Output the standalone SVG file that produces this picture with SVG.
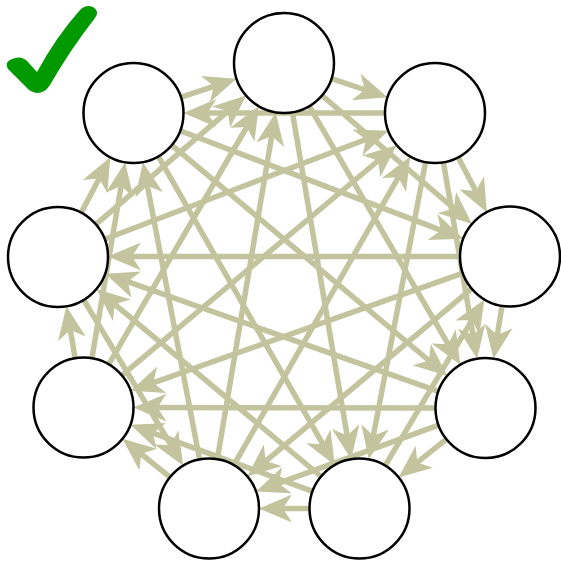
<svg xmlns="http://www.w3.org/2000/svg" width="561" height="561" viewBox="0 0 561 561">
<defs>
<marker id="arr" markerUnits="userSpaceOnUse" markerWidth="33" markerHeight="28" viewBox="0 0 33 28" refX="13" refY="14" orient="auto">
<path d="M0,0 L33,14 L0,28 L9,14 Z" fill="#c3c49e"/>
</marker>
<style>
.e{stroke:#c3c49e;stroke-width:5.5;fill:none;marker-end:url(#arr)}
.n{fill:#ffffff;stroke:#000000;stroke-width:2.5}
</style>
</defs>
<rect width="561" height="561" fill="#ffffff"/>
<path d="M8,69 Q4,62 12,59 Q21,55 27,61 L37,72 Q56,37 80,10 Q86,4 93,7 Q100,11 95,18 Q70,50 50,85 Q45,93 37,93 Q30,92 26,87 Z" fill="#009900"/>
<g id="edges">
<line class="e" x1="331.5" y1="78.7" x2="368.5" y2="91.0"/>
<line class="e" x1="322.0" y1="95.5" x2="456.8" y2="211.0"/>
<line class="e" x1="309.2" y1="106.2" x2="450.2" y2="347.6"/>
<line class="e" x1="292.4" y1="112.3" x2="347.8" y2="439.5"/>
<line class="e" x1="458.2" y1="157.3" x2="477.6" y2="194.5"/>
<line class="e" x1="443.4" y1="162.3" x2="473.7" y2="339.0"/>
<line class="e" x1="425.6" y1="162.1" x2="372.6" y2="439.7"/>
<line class="e" x1="385.0" y1="113.0" x2="203.5" y2="113.0"/>
<line class="e" x1="502.0" y1="305.9" x2="496.7" y2="338.9"/>
<line class="e" x1="471.7" y1="288.6" x2="262.7" y2="463.6"/>
<line class="e" x1="462.9" y1="273.2" x2="149.5" y2="384.1"/>
<line class="e" x1="460.0" y1="256.5" x2="128.0" y2="256.4"/>
<line class="e" x1="446.4" y1="439.2" x2="414.2" y2="464.9"/>
<line class="e" x1="438.5" y1="425.1" x2="274.8" y2="484.6"/>
<line class="e" x1="435.5" y1="407.9" x2="153.5" y2="407.6"/>
<line class="e" x1="438.4" y1="391.4" x2="124.0" y2="280.3"/>
<line class="e" x1="385.1" y1="465.6" x2="474.1" y2="316.6"/>
<line class="e" x1="309.5" y1="508.5" x2="279.0" y2="508.5"/>
<line class="e" x1="312.5" y1="491.3" x2="149.2" y2="431.6"/>
<line class="e" x1="321.1" y1="476.5" x2="111.8" y2="301.8"/>
<line class="e" x1="217.3" y1="459.2" x2="272.4" y2="132.0"/>
<line class="e" x1="233.8" y1="465.1" x2="400.3" y2="173.8"/>
<line class="e" x1="170.0" y1="477.2" x2="138.0" y2="451.4"/>
<line class="e" x1="199.6" y1="459.4" x2="146.6" y2="181.8"/>
<line class="e" x1="108.7" y1="364.3" x2="248.8" y2="123.5"/>
<line class="e" x1="121.8" y1="375.4" x2="381.3" y2="158.0"/>
<line class="e" x1="75.1" y1="358.2" x2="69.7" y2="326.0"/>
<line class="e" x1="91.9" y1="358.2" x2="121.8" y2="182.0"/>
<line class="e" x1="95.9" y1="224.4" x2="230.9" y2="108.6"/>
<line class="e" x1="104.7" y1="239.2" x2="369.6" y2="138.0"/>
<line class="e" x1="83.7" y1="299.9" x2="173.0" y2="448.5"/>
<line class="e" x1="81.2" y1="212.7" x2="101.0" y2="175.0"/>
<line class="e" x1="181.0" y1="97.2" x2="217.6" y2="85.1"/>
<line class="e" x1="180.2" y1="130.8" x2="444.6" y2="231.6"/>
<line class="e" x1="171.8" y1="145.1" x2="431.9" y2="363.0"/>
<line class="e" x1="158.3" y1="156.4" x2="324.8" y2="447.7"/>
</g>
<g id="n0"><circle class="n" cx="284" cy="63" r="50"/></g>
<g id="n1"><circle class="n" cx="435" cy="113" r="50"/></g>
<g id="n2"><circle class="n" cx="510" cy="256.5" r="50"/></g>
<g id="n3"><circle class="n" cx="485.5" cy="408" r="50"/></g>
<g id="n4"><circle class="n" cx="359.5" cy="508.5" r="50"/></g>
<g id="n5"><circle class="n" cx="209" cy="508.5" r="50"/></g>
<g id="n6"><circle class="n" cx="83.5" cy="407.5" r="50"/></g>
<g id="n7"><circle class="n" cx="58" cy="257" r="50"/></g>
<g id="n8"><circle class="n" cx="133.5" cy="113" r="50"/></g>
</svg>
